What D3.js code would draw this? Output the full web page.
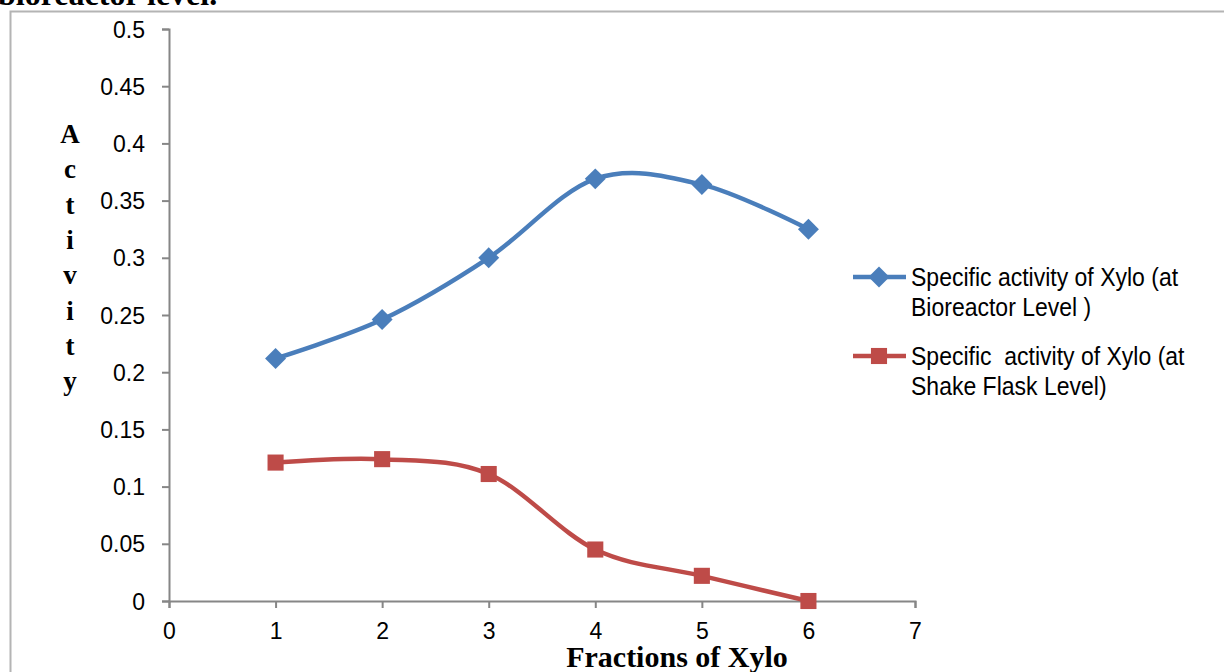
<!DOCTYPE html>
<html>
<head>
<meta charset="utf-8">
<script src="https://cdn.jsdelivr.net/npm/d3@7"></script>
<style>
  body { margin: 0; background: #fff; }
  svg { display: block; }
  .tick text { font-family: "Liberation Sans", Arial, sans-serif; font-size: 23px; fill: #000; }
</style>
</head>
<body>
<div id="chart"></div>
<script>
// categories / values
const fractions = [1, 2, 3, 4, 5, 6];
const bioreactor = [0.212, 0.246, 0.300, 0.369, 0.364, 0.325];
const shakeFlask = [0.121, 0.124, 0.111, 0.045, 0.022, 0.0];
const yTicks = [0, 0.05, 0.1, 0.15, 0.2, 0.25, 0.3, 0.35, 0.4, 0.45, 0.5];
const xTicks = [0, 1, 2, 3, 4, 5, 6, 7];
const seriesNames = ["Specific activity of Xylo (at|Bioreactor Level )", "Specific  activity of Xylo (at|Shake Flask Level)"];

const W = 1224, H = 672;
const svg = d3.select("#chart").append("svg").attr("width", W).attr("height", H);
const serif = "'Liberation Serif', 'Times New Roman', serif";

// caption from the text above the chart, clipped by the top edge
svg.append("text").attr("x", -2).attr("y", 5)
    .style("font-family", serif)
    .style("font-weight", "bold").style("font-size", "32px")
    .text("bioreactor level.");

// frame
svg.append("path").attr("d", "M10.5,672 V11.5 H1224")
    .attr("fill", "none").attr("stroke", "#b4b4b4").attr("stroke-width", 2);

const x = d3.scaleLinear().domain([0, 7]).range([169, 915]);
const y = d3.scaleLinear().domain([0, 0.5]).range([601, 29]);

const yAxis = svg.append("g").attr("transform", "translate(169,0)")
    .call(d3.axisLeft(y).tickValues(yTicks).tickSize(7).tickPadding(17).tickFormat(d => String(+d.toFixed(2))));
const xAxis = svg.append("g").attr("transform", "translate(0,601)")
    .call(d3.axisBottom(x).tickValues(xTicks).tickSize(7).tickPadding(15).tickFormat(d => String(d)));
[yAxis, xAxis].forEach(a => {
    a.select(".domain").attr("stroke", "#868686").attr("stroke-width", 2);
    a.selectAll(".tick line").attr("stroke", "#868686").attr("stroke-width", 2);
});
yAxis.selectAll(".tick text").attr("dy", "0.35em");

// y axis title, stacked letters
const yTitle = "Activity".split("");
svg.append("g").selectAll("text").data(yTitle).join("text")
    .attr("x", 70).attr("y", (d, i) => 143 + i * 35.3)
    .attr("text-anchor", "middle")
    .style("font-family", serif)
    .style("font-weight", "bold").style("font-size", "27px")
    .text(d => d);

svg.append("text").attr("x", 677).attr("y", 667).attr("text-anchor", "middle")
    .style("font-family", serif)
    .style("font-weight", "bold").style("font-size", "30px")
    .text("Fractions of Xylo");

const line = d3.line().curve(d3.curveCatmullRom.alpha(0))
    .x((d, i) => x(fractions[i])).y(d => y(d));

const series = [
    { values: bioreactor, color: "#4a7ebb", marker: d3.symbolDiamond2, size: 280 },
    { values: shakeFlask, color: "#be4b48", marker: d3.symbolSquare2, size: 330 }
];

series.forEach(s => {
    svg.append("path").attr("d", line(s.values))
        .attr("fill", "none").attr("stroke", s.color).attr("stroke-width", 4.5);
    svg.append("g").selectAll("path").data(s.values).join("path")
        .attr("transform", (d, i) => `translate(${x(fractions[i])},${y(d)})`)
        .attr("d", d3.symbol().type(s.marker).size(s.size))
        .attr("fill", s.color);
});

// legend (narrow text: no condensed font installed, so squeeze horizontally)
const legend = svg.append("g");
series.forEach((s, i) => {
    const ly = 277 + i * 79;
    legend.append("line").attr("x1", 853).attr("x2", 906).attr("y1", ly).attr("y2", ly)
        .attr("stroke", s.color).attr("stroke-width", 4.5);
    legend.append("path").attr("transform", `translate(879,${ly})`)
        .attr("d", d3.symbol().type(s.marker).size(s.size)).attr("fill", s.color);
    const t = legend.append("text")
        .attr("transform", `translate(911,${ly + 9}) scale(0.92,1)`)
        .style("font-family", "'Liberation Sans', Arial, sans-serif")
        .style("font-size", "25px").attr("fill", "#000");
    seriesNames[i].split("|").forEach((ln, j) => {
        t.append("tspan").attr("x", 0).attr("y", j * 30).style("white-space", "pre").text(ln);
    });
});
</script>
</body>
</html>
